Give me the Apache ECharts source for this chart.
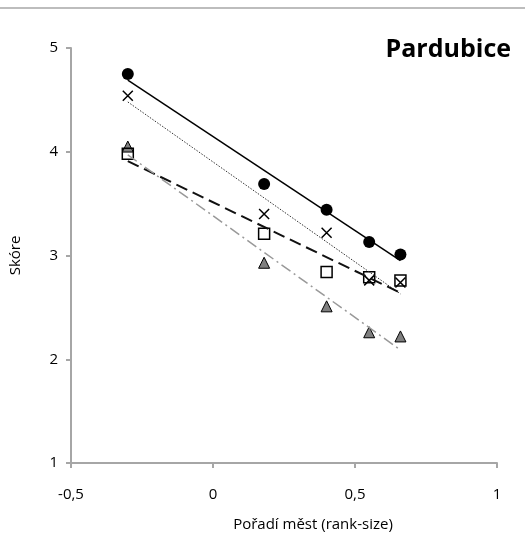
<html>
<head>
<meta charset="utf-8">
<title>Pardubice</title>
<script src="https://cdn.jsdelivr.net/npm/echarts@6/dist/echarts.min.js"></script>
</head>
<body style="margin:0;background:#fff">
<div id="main" style="width:525px;height:541px;"></div>
<script type="text/javascript">
// x hodnoty (rank-size)
var xVals = [-0.3, 0.18, 0.40, 0.55, 0.66];
// skóre jednotlivých řad
var circles = [4.75, 3.69, 3.44, 3.13, 3.01];
var crosses = [4.54, 3.40, 3.22, 2.76, 2.74];
var squares = [3.98, 3.21, 2.84, 2.79, 2.76];
var triangles = [4.05, 2.93, 2.51, 2.26, 2.22];
// koncové body trendových čar
var trendX = [-0.3, 0.66];
var trendCircles = [4.69, 2.95];
var trendCrosses = [4.48, 2.63];
var trendSquares = [3.91, 2.64];
var trendTriangles = [3.97, 2.09];

function pairs(xs, ys) {
    var out = [];
    for (var i = 0; i < xs.length; i++) out.push([xs[i], ys[i]]);
    return out;
}
function fmt(v) { return String(v).replace('.', ','); }

var font = 'Open Sans';
var myChart = echarts.init(document.getElementById('main'));
var option = {
    animation: false,
    backgroundColor: '#fff',
    title: {
        text: 'Pardubice',
        right: 9, top: 32,
        textStyle: { fontFamily: font, fontWeight: 'bold', fontSize: 25, color: '#000' }
    },
    graphic: [{
        type: 'line',
        shape: { x1: 0, y1: 8, x2: 525, y2: 8 },
        style: { stroke: '#bdbdbd', lineWidth: 2 }
    }],
    grid: { left: 69, right: 28, top: 48, bottom: 78 },
    xAxis: {
        type: 'value', min: -0.5, max: 1, interval: 0.5,
        name: 'Pořadí měst (rank-size)',
        nameLocation: 'middle', nameGap: 54,
        nameTextStyle: { fontFamily: font, fontSize: 15, color: '#000', padding: [0, 0, 0, 58] },
        axisLine: { onZero: false, lineStyle: { color: '#a6a6a6', width: 2 } },
        axisTick: { show: true, length: 5, lineStyle: { color: '#a6a6a6', width: 2 } },
        axisLabel: { margin: 24, fontFamily: font, fontSize: 15, color: '#000', formatter: fmt },
        splitLine: { show: false }
    },
    yAxis: {
        type: 'value', min: 1, max: 5, interval: 1,
        name: 'Skóre',
        nameLocation: 'middle', nameGap: 48,
        nameTextStyle: { fontFamily: font, fontSize: 15, color: '#000' },
        axisLine: { show: true, onZero: false, lineStyle: { color: '#a6a6a6', width: 2 } },
        axisTick: { show: true, length: 5, lineStyle: { color: '#a6a6a6', width: 2 } },
        axisLabel: { margin: 13, fontFamily: font, fontSize: 15, color: '#000' },
        splitLine: { show: false }
    },
    series: [
        { type: 'line', data: pairs(trendX, trendCircles), symbol: 'none',
          lineStyle: { color: '#000', width: 1.5 } },
        { type: 'line', data: pairs(trendX, trendCrosses), symbol: 'none',
          lineStyle: { color: '#333', width: 1, type: [1.5, 1.5] } },
        { type: 'line', data: pairs(trendX, trendSquares), symbol: 'none',
          lineStyle: { color: '#111', width: 2, type: [12, 6] } },
        { type: 'line', data: pairs(trendX, trendTriangles), symbol: 'none',
          lineStyle: { color: '#999', width: 1.5, type: [11, 4, 2, 4] } },
        { type: 'scatter', data: pairs(xVals, triangles), symbol: 'triangle', symbolSize: 11,
          itemStyle: { color: '#7f7f7f', borderColor: '#000', borderWidth: 1, opacity: 1 } },
        { type: 'scatter', data: pairs(xVals, squares), symbol: 'rect', symbolSize: 11,
          itemStyle: { color: 'rgba(255,255,255,0)', borderColor: '#000', borderWidth: 1.5, opacity: 1 } },
        { type: 'scatter', data: pairs(xVals, crosses), symbol: 'path://M0,0L10,10M10,0L0,10', symbolSize: 10,
          itemStyle: { color: 'none', borderColor: '#000', borderWidth: 1.5, opacity: 1 } },
        { type: 'scatter', data: pairs(xVals, circles), symbol: 'circle', symbolSize: 12,
          itemStyle: { color: '#000', opacity: 1 } }
    ]
};
myChart.setOption(option);
</script>
</body>
</html>
